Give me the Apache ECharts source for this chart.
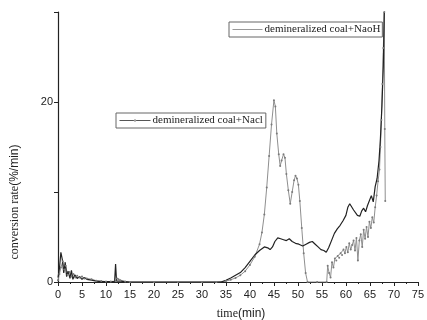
<!DOCTYPE html>
<html>
<head>
<meta charset="utf-8">
<script src="https://cdn.jsdelivr.net/npm/echarts@6/dist/echarts.min.js"></script>
<style>html,body{margin:0;padding:0;background:#fff}#c{width:427px;height:320px}</style>
</head>
<body>
<div id="c"></div>
<script>
// Series names
const seriesNames = ['demineralized coal+Nacl', 'demineralized coal+NaoH'];
// Gray series with circle markers (Nacl)
const naclTime = [0,0.3,0.6,1,1.3,1.6,2,2.4,2.8,3.2,3.6,4,4.5,5,5.5,6,7,8,9,10,11,12,12.3,12.6,13,14,15,20,25,30,33,35,36,37,38,39,40,41,42,42.5,43,43.5,44,44.5,45,45.3,45.6,46,46.3,46.6,47,47.3,47.6,48,48.4,48.8,49.2,49.5,49.8,50.1,50.4,50.8,51.2,51.6,52,54,56,56.2,56.5,56.8,57.1,57.4,57.7,58,58.3,58.6,58.9,59.2,59.5,59.8,60.1,60.4,60.7,61,61.3,61.6,61.9,62.2,62.5,62.8,63.1,63.4,63.7,64,64.3,64.6,64.9,65.2,65.5,65.8,66.1,66.4,66.7,67,67.2,67.4,67.6,67.8,68,68.1,68.2];
const naclValue = [0.2,0.9,1.6,2.3,1.4,1.8,0.8,1.1,0.6,0.9,0.5,0.7,0.5,0.6,0.4,0.4,0.3,0.15,0.1,0.05,0.05,0.1,0.4,0.3,0.2,0.05,0,0,0,0,0,0.1,0.25,0.45,0.75,1.2,1.9,2.8,4.2,5.5,7.5,10.5,14,17.5,20.2,19.5,16.5,14.2,12.9,13.5,14.2,13.8,12,10.2,8.7,10,11.3,11.8,11.5,10.8,9,6,3.2,1,0,0,0,1.8,1.0,0.5,2.2,1.6,2.6,2.4,2.9,2.7,3.2,3.0,3.6,3.2,3.9,3.3,4.3,3.6,4.1,4.6,3.5,4.9,2.4,4.6,5.3,3.9,5.8,4.8,6.1,5.0,6.7,6.0,7.2,6.6,8.3,9.6,11.2,12.5,15,18,22,26,30,17,9];
// Black series (NaoH)
const naohTime = [0,0.3,0.6,0.9,1.2,1.5,1.8,2.1,2.5,2.8,3.1,3.5,4,4.5,5,5.5,6,7,8,9,10,11,11.8,12,12.2,13,14,15,20,25,30,34,35,36,37,38,39,40,41,42,43,43.7,44.2,44.7,45.2,45.8,46.4,47,47.6,48.2,48.8,49.5,50.2,51,51.7,52.4,53,53.6,54.2,54.8,55.4,55.9,56.4,57,57.6,58.2,58.8,59.4,60,60.4,60.8,61.2,61.6,62,62.4,62.9,63.3,63.7,64.1,64.5,64.9,65.3,65.7,66.1,66.5,66.9,67.2,67.5,67.8,68];
const naohValue = [0.5,1.5,3.3,2.5,1.0,2.2,0.6,1.2,0.4,1.3,0.3,0.8,0.4,0.6,0.3,0.5,0.3,0.2,0.1,0.05,0.05,0.05,0.05,2.0,0.1,0.1,0.05,0,0,0,0,0,0.2,0.45,0.75,1.05,1.6,2.3,3.0,3.5,3.9,3.8,3.6,3.9,4.5,4.9,4.8,4.7,4.6,4.8,4.5,4.3,4.2,4.0,4.2,4.4,4.5,4.2,3.9,3.6,3.5,3.3,3.8,4.6,5.4,5.9,6.3,6.8,7.4,8.3,8.7,8.6,8.0,7.8,7.4,7.3,7.9,8.2,7.8,8.5,8.4,9.6,8.9,10.6,11.5,13.5,16,19.5,24,30];
// Axis ticks
const xMax = 75, xInterval = 5;
const yMax = 30, yInterval = 10;
const yLabels = [0, 20];

const chart = echarts.init(document.getElementById('c'));
const serif = 'Liberation Serif, Times New Roman, serif';
const sans = 'Arial, Liberation Sans, Helvetica, sans-serif';
const naclData = naclTime.map((t, i) => [t, naclValue[i]]);
const naohData = naohTime.map((t, i) => [t, naohValue[i]]);

chart.setOption({
  animation: false,
  backgroundColor: '#fff',
  grid: { left: 58, right: 6, top: 12, bottom: 38, containLabel: false },
  xAxis: {
    type: 'value', min: 0, max: xMax, interval: xInterval,
    axisLine: { lineStyle: { color: '#222', width: 1.2 } },
    axisTick: { show: true, inside: false, length: 4, lineStyle: { color: '#222' } },
    minorTick: { show: true, splitNumber: 2, length: 2, lineStyle: { color: '#222' } },
    splitLine: { show: false },
    axisLabel: { color: '#222', fontFamily: sans, fontSize: 11, margin: 7 }
  },
  yAxis: {
    type: 'value', min: 0, max: yMax, interval: yInterval,
    axisLine: { show: true, lineStyle: { color: '#222', width: 1.2 } },
    axisTick: { show: true, inside: false, length: 4, lineStyle: { color: '#222' } },
    splitLine: { show: false },
    axisLabel: { color: '#222', fontFamily: sans, fontSize: 11, margin: 5,
      formatter: v => yLabels.indexOf(v) >= 0 ? String(v) : '' }
  },
  legend: [
    { data: [{ name: seriesNames[0], itemStyle: { color: '#999', borderWidth: 0 }, lineStyle: { color: '#555', width: 1 } }],
      left: 116, top: 113, orient: 'vertical', itemWidth: 31, itemHeight: 3, itemGap: 0,
      padding: [2, 3, 2, 3], borderColor: '#666', borderWidth: 1,
      textStyle: { fontFamily: serif, fontSize: 11, color: '#222', padding: [0, 0, 0, -3] } },
    { data: [{ name: seriesNames[1], itemStyle: { opacity: 0 }, lineStyle: { color: '#999', width: 1 } }],
      left: 229, top: 22, orient: 'vertical', itemWidth: 30, itemHeight: 3, itemGap: 0,
      padding: [2, 2, 2, 3], borderColor: '#666', borderWidth: 1,
      textStyle: { fontFamily: serif, fontSize: 11, color: '#222', padding: [0, 0, 0, -3] } }
  ],
  series: [
    { name: seriesNames[0], type: 'line', data: naclData,
      symbol: 'circle', symbolSize: 2, showSymbol: true,
      lineStyle: { color: '#8f8f8f', width: 1 },
      itemStyle: { color: '#7a7a7a', borderWidth: 0 } },
    { name: seriesNames[1], type: 'line', data: naohData,
      symbol: 'none', lineStyle: { color: '#222', width: 1.2 },
      itemStyle: { color: '#222' } }
  ],
  graphic: [
    { type: 'text', x: 15, y: 202, rotation: Math.PI / 2,
      style: { text: '{a|conversion rate}{b|(%/min)}', align: 'center', verticalAlign: 'middle',
        rich: { a: { fontFamily: serif, fontSize: 12, fill: '#222' }, b: { fontFamily: sans, fontSize: 12, fill: '#222' } } } },
    { type: 'text', x: 241, y: 314,
      style: { text: '{a|time}{b|(min)}', align: 'center', verticalAlign: 'middle',
        rich: { a: { fontFamily: serif, fontSize: 12, fill: '#222' }, b: { fontFamily: sans, fontSize: 12, fill: '#222' } } } }
  ]
});
</script>
</body>
</html>
